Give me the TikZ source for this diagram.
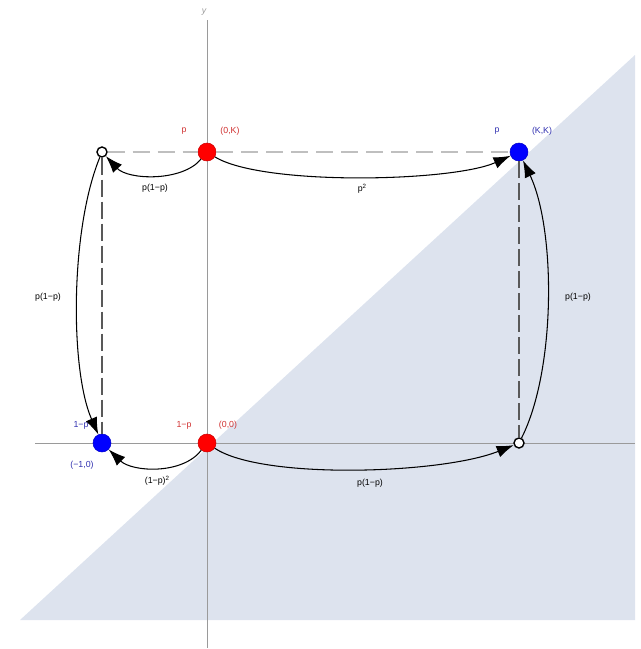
\documentclass[tikz,border=0pt]{standalone}
\usepackage{fontspec}
\setmainfont{Liberation Sans}
\usetikzlibrary{arrows.meta}
\definecolor{regioncol}{HTML}{DDE3EE}
\definecolor{axisgray}{HTML}{9A9A9A}
\definecolor{lred}{HTML}{D03030}
\definecolor{lblue}{HTML}{3030B0}
\begin{document}
\begin{tikzpicture}[x=0.02cm,y=-0.02cm,
  txt/.style={font=\fontsize{5}{6}\selectfont, inner sep=0pt},
  reddot/.style={circle, fill=red, draw=red!80!black, line width=0.3pt, minimum size=18*0.02cm, inner sep=0pt},
  bluedot/.style={circle, fill=blue, draw=blue!80!black, line width=0.3pt, minimum size=18*0.02cm, inner sep=0pt},
  opendot/.style={circle, fill=white, draw=black, line width=0.8pt, minimum size=10*0.02cm, inner sep=0pt},
  axisline/.style={axisgray, line width=0.5pt},
  vdash/.style={draw=black!65, line width=0.8pt, dash pattern=on 17*0.02cm off 5*0.02cm},
  hdash/.style={draw=black!25, line width=0.9pt, dash pattern=on 17*0.02cm off 8*0.02cm},
  trans/.style={draw=black, line width=0.6pt, -{Latex[length=17*0.02cm, width=12*0.02cm]}}
]
\useasboundingbox (0,0) rectangle (640,649);
% shaded region
\fill[regioncol] (20,620) -- (635,620) -- (635,55) -- cycle;
% axes
\coordinate (xl) at (35,443);
\coordinate (xr) at (635,443);
\coordinate (yt) at (207,20);
\coordinate (yb) at (207,648);
\draw[axisline] (xl) -- (xr);
\draw[axisline] (yt) -- (yb);
\node[txt, text=axisgray, font=\fontsize{5}{6}\selectfont\itshape] (ylab) at (204,12) {y};
% dots
\node[opendot] (TL) at (102,152) {};
\node[opendot] (BR) at (519,443) {};
\node[reddot] (A) at (207,152) {};
\node[reddot] (O) at (207,443) {};
\node[bluedot] (KK) at (519,152) {};
\node[bluedot] (M) at (102,443) {};
% dashed guides
\draw[hdash] (TL) -- (A);
\draw[hdash] (A) -- (KK);
\draw[vdash] (TL) -- (M);
\draw[vdash] (KK) -- (BR);
% node labels
\node[txt, text=lred] (lA1) at (184,131) {p};
\node[txt, text=lred] (lA2) at (230,131) {(0,K)};
\node[txt, text=lblue] (lK1) at (497,131) {p};
\node[txt, text=lblue] (lK2) at (542,131) {(K,K)};
\node[txt, text=lred] (lO1) at (184,425) {1−p};
\node[txt, text=lred] (lO2) at (228,425) {(0,0)};
\node[txt, text=lblue] (lM1) at (81,425) {1−p};
\node[txt, text=lblue] (lM2) at (82,465) {(−1,0)};
% transitions
\draw[trans] (A) .. controls (182,182) and (128,180) .. (TL);
\draw[trans] (A) .. controls (262,186) and (452,182) .. (KK);
\draw[trans] (TL) .. controls (70,230) and (70,370) .. (M);
\draw[trans] (O) .. controls (182,475) and (132,472) .. (M);
\draw[trans] (O) .. controls (262,480) and (442,474) .. (BR);
\draw[trans] (BR) .. controls (556,370) and (556,230) .. (KK);
% transition labels
\node[txt] (t1) at (155,188) {p(1−p)};
\node[txt] (t2) at (362,189) {p\raisebox{0.6ex}{\fontsize{3.5}{4}\selectfont 2}};
\node[txt] (t3) at (48,297) {p(1−p)};
\node[txt] (t4) at (157,481) {(1−p)\raisebox{0.6ex}{\fontsize{3.5}{4}\selectfont 2}};
\node[txt] (t5) at (370,483) {p(1−p)};
\node[txt] (t6) at (578,297) {p(1−p)};
\end{tikzpicture}
\end{document}
